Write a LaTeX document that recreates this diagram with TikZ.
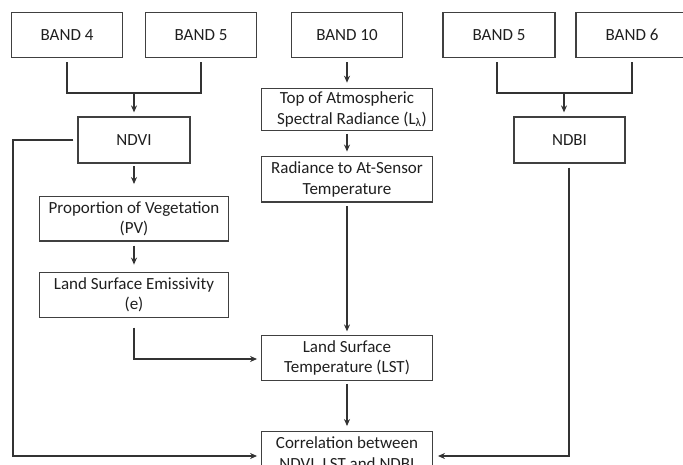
\documentclass[tikz,border=0pt]{standalone}
\usepackage{fontspec}
\setmainfont{Carlito}
\usetikzlibrary{arrows.meta,calc}
\begin{document}
\begin{tikzpicture}[x=1pt,y=-1pt,
  box/.style={draw=black!75, line width=1.2pt, inner sep=0pt, align=center,
    font=\fontsize{17}{20.5}\selectfont, text=black!88},
  conn/.style={draw=black!80, line width=1.5pt},
  arr/.style={conn,-{Stealth[length=7pt,width=6pt]}}]
\useasboundingbox (0,0) rectangle (683,465);
\clip (0,0) rectangle (683,465);
% top row
\node[box, minimum width=111pt, minimum height=44.6pt] (b4) at (67,35) {BAND 4};
\node[box, minimum width=111pt, minimum height=44.6pt] (b5) at (201,35) {BAND 5};
\node[box, minimum width=111pt, minimum height=44.6pt] (b10) at (347,35) {BAND 10};
\node[box, minimum width=112pt, minimum height=44.6pt] (b5r) at (499,35) {BAND 5};
\node[box, minimum width=112pt, minimum height=44.6pt] (b6) at (632,35) {BAND 6};
% second row
\node[box, minimum width=112pt, minimum height=46pt] (ndvi) at (134,140) {NDVI};
\node[box, minimum width=111pt, minimum height=46pt] (ndbi) at (569.5,140) {NDBI};
\node[box, minimum width=170.7pt, minimum height=42.4pt] (toa) at (347,109.5) {Top of Atmospheric\\\hspace*{10pt}Spectral Radiance (L\textsubscript{λ})};
\node[box, minimum width=170.7pt, minimum height=45.3pt] (rad) at (347,179.3) {Radiance to At-Sensor\\Temperature};
\node[box, minimum width=189pt, minimum height=44.3pt] (pv) at (134,218.8) {Proportion of Vegetation\\(PV)};
\node[box, minimum width=189pt, minimum height=44.6pt] (lse) at (134,295) {Land Surface Emissivity\\(e)};
\node[box, minimum width=170.7pt, minimum height=45pt] (lst) at (347,358.2) {Land Surface\\Temperature (LST)};
\node[box, minimum width=170.7pt, minimum height=45.3pt] (corr) at (347,454.3) {Correlation between\\NDVI, LST and NDBI};
% junctions
\coordinate (j1) at (134,93);
\coordinate (j2) at (564,93);
\coordinate (cl) at (13,456);
\coordinate (cr) at (569,456);
% connectors
\draw[conn] ($(b4.south)+(0,4.4)$) |- (j1) -| ($(b5.south)+(0,4.4)$);
\draw[arr] (j1) -- ($(ndvi.north)+(0,-4)$);
\draw[conn] ($(b5r.south)+(-2,4.4)$) |- (j2) -| ($(b6.south)+(0,4.4)$);
\draw[arr] (j2) -- ($(ndbi.north)+(-5.5,-4)$);
\draw[arr] ($(b10.south)+(0,4.4)$) -- ($(toa.north)+(0,-5)$);
\draw[arr] ($(toa.south)+(0,2.5)$) -- ($(rad.north)+(0,-4.5)$);
\draw[arr] ($(rad.south)+(0,3.7)$) -- ($(lst.north)+(0,-3.7)$);
\draw[arr] ($(lst.south)+(0,2.5)$) -- ($(corr.north)+(0,-5)$);
\draw[arr] ($(ndvi.south)+(0,2.5)$) -- ($(pv.north)+(0,-12)$);
\draw[arr] ($(pv.south)+(0,4)$) -- ($(lse.north)+(0,-7.5)$);
\draw[arr] ($(lse.south)+(0,9.7)$) |- ($(lst.west)+(-4,0.8)$);
\draw[arr] ($(ndvi.west)+(-4,0)$) -| (cl) -- ($(corr.west |- cl)+(-4,0)$);
\draw[arr] ($(ndbi.south)+(-0.5,4)$) |- ($(corr.east |- cr)+(5,0)$);
\end{tikzpicture}
\end{document}
